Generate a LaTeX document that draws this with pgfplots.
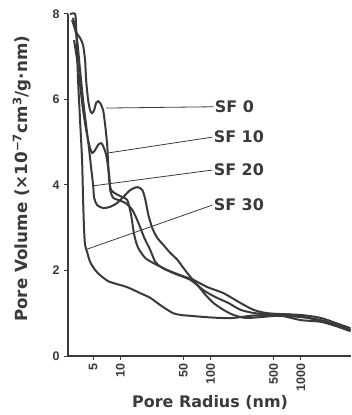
\documentclass[border=0pt]{standalone}
\usepackage{fontspec}
\setmainfont{Liberation Sans}
\newfontfamily\labfont{DejaVu Sans}
\usepackage{pgfplots}
\pgfplotsset{compat=1.18}
\definecolor{ink}{HTML}{3A3A3A}
\tikzset{curve/.style={color=ink, line width=2pt, smooth, tension=0.45, mark=none},
         sflab/.style={anchor=west, inner sep=1pt, font=\labfont\bfseries\fontsize{16}{19}\selectfont, text=ink}}
\begin{document}
\begin{tikzpicture}
\begin{axis}[
  scale only axis, width=283bp, height=342bp,
  xmode=log, xmin=2.64, xmax=3600, ymin=0, ymax=8,
  axis lines=left, axis line style={-, line width=1.2pt, ink},
  xtick={5,10,50,100,500,1000}, xticklabels={5,10,50,100,500,1000},
  ytick={0,2,4,6,8},
  xminorticks=false,
  tick align=outside, major tick length=4bp, tick style={line width=1pt, ink},
  /pgf/number format/assume math mode=true,
  ticklabel style={font=\fontsize{12.5}{14}\selectfont\bfseries, text=ink},
  xticklabel style={rotate=90, anchor=east},
  yticklabel style={xshift=-1bp},
  xlabel={Pore Radius (nm)},
  ylabel={Pore Volume (×10\textsuperscript{−7}cm\textsuperscript{3}/g·nm)},
  label style={font=\labfont\bfseries\fontsize{16}{19}\selectfont, text=ink},
  xlabel style={at={(axis description cs:0.502,-0.1345)}, anchor=center},
  ylabel style={at={(axis description cs:-0.1625,0.518)}, anchor=center, font=\labfont\bfseries\fontsize{16.8}{19}\selectfont},
  clip=false,
]
% SF 0
\addplot[curve] coordinates {(2.93,7.86)(3.24,7.58)(3.59,7.44)(3.88,7.27)(4.08,6.92)(4.19,6.46)(4.41,5.99)(4.64,5.75)(4.88,5.68)(5.14,5.75)(5.41,5.92)(5.69,5.96)(5.99,5.92)(6.47,5.75)(6.81,5.40)(7.17,4.94)(7.36,4.47)(7.55,4.12)(7.94,3.88)(9.03,3.79)(10.5,3.72)(11.96,3.65)(13.2,3.30)(14.3,2.83)(15.8,2.53)(19.0,2.29)(24.5,2.15)(33.3,2.01)(46.4,1.89)(64.6,1.78)(92.8,1.61)(139,1.47)(215,1.24)(300,1.08)(430,1.00)(836,0.96)(1547,0.84)(2316,0.73)(3548,0.61)};
% SF 10
\addplot[curve] coordinates {(3.08,7.39)(3.33,6.92)(3.59,6.34)(3.88,5.75)(4.19,5.29)(4.53,4.94)(4.88,4.75)(5.28,4.82)(5.69,4.94)(6.15,4.98)(6.47,4.91)(6.99,4.70)(7.55,4.23)(7.74,3.88)(8.36,3.70)(9.5,3.65)(11.4,3.58)(13.6,3.42)(15.8,3.13)(18.5,2.76)(21.5,2.48)(24.5,2.20)(29.3,2.06)(40.8,1.92)(59.9,1.78)(83.6,1.54)(113,1.38)(158,1.24)(215,1.08)(316,1.00)(527,0.98)(1000,0.96)(1668,0.89)(2448,0.77)(3548,0.65)};
% SF 20
\addplot[curve] coordinates {(3.0,7.91)(3.33,7.39)(3.59,6.69)(3.88,5.99)(4.19,5.40)(4.53,4.82)(4.76,4.40)(5.01,4.00)(5.14,3.70)(5.55,3.53)(6.47,3.46)(7.74,3.49)(9.26,3.58)(10.8,3.72)(12.9,3.88)(15.45,3.95)(17.6,3.88)(19.0,3.65)(20.5,3.30)(22.7,2.99)(25.8,2.76)(30.0,2.60)(35.9,2.41)(43.0,2.25)(50.1,2.06)(59.9,1.85)(71.7,1.66)(88,1.43)(108,1.24)(139,1.08)(180,0.96)(245,0.89)(359,0.91)(599,0.94)(1000,0.84)(1668,0.80)(2448,0.70)(3548,0.58)};
% SF 30
\addplot[curve] coordinates {(2.78,8.0)(3.16,8.0)(3.24,7.74)(3.33,7.16)(3.41,6.46)(3.59,5.52)(3.78,4.58)(3.88,3.65)(3.98,2.95)(4.08,2.60)(4.30,2.43)(4.64,2.20)(5.28,2.01)(5.99,1.89)(7.36,1.75)(9.26,1.68)(11.96,1.61)(16.7,1.47)(21.5,1.36)(27.8,1.19)(33.3,1.08)(38.8,1.00)(46.4,0.96)(59.9,0.94)(88,0.91)(129,0.89)(180,0.89)(278,0.94)(464,0.96)(1000,0.91)(1668,0.84)(2448,0.73)(3548,0.61)};
% leader lines and labels
\draw[ink, line width=0.8pt] (axis cs:6.97,5.80) -- (axis cs:108,5.83) node[sflab] {SF 0};
\draw[ink, line width=0.8pt] (axis cs:7.36,4.75) -- (axis cs:105,5.12) node[sflab] {SF 10};
\draw[ink, line width=0.8pt] (axis cs:5.01,3.98) -- (axis cs:105,4.35) node[sflab] {SF 20};
\draw[ink, line width=0.8pt] (axis cs:4.30,2.50) -- (axis cs:105,3.53) node[sflab] {SF 30};
\end{axis}
\pgfresetboundingbox
\path ([shift={(-68bp,-59bp)}]current axis.south west) rectangle ([shift={(0bp,14bp)}]current axis.north east);
\end{tikzpicture}
\end{document}
